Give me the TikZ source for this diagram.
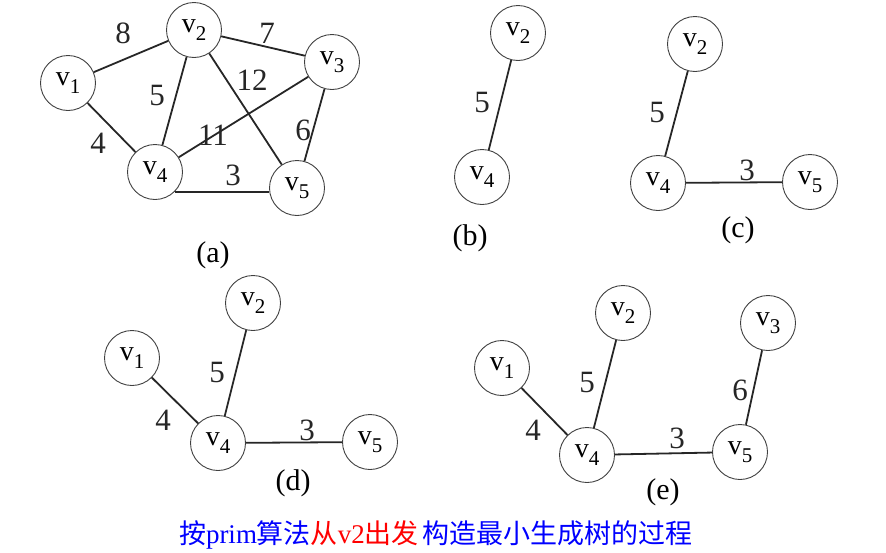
\documentclass[tikz,border=0pt]{standalone}
\usepackage{fontspec}
\setmainfont{Liberation Serif}
\newfontfamily\cjk{Noto Sans CJK SC}
\newcommand{\vx}[1]{v\raisebox{-8pt}{\fontsize{21}{21}\selectfont #1}}

\begin{document}
\begin{tikzpicture}[x=1pt, y=-1pt,
    vertex/.style = {circle, draw=black!75, line width=0.9pt, minimum size=55pt,
      inner sep=0pt, font=\fontsize{28}{28}\selectfont},
    weight/.style = {font=\fontsize{31}{31}\selectfont, text=black!85},
    panel/.style = {font=\fontsize{30}{30}\selectfont}]
  \useasboundingbox (0,0) rectangle (886,552);

  \node[vertex] (a1) at (68,83)   {\vx{1}};
  \node[vertex] (a2) at (194,30)  {\vx{2}};
  \node[vertex] (a3) at (332,62)  {\vx{3}};
  \node[vertex] (a4) at (155,172) {\vx{4}};
  \node[vertex] (a5) at (297,188) {\vx{5}};
  \coordinate (a45) at (a4.-45 -| a5.west);
  \path[draw, line width=1.8pt, black!85]
    (a1) edge (a2)
         edge (a4)
    (a2) edge (a3)
         edge (a4)
         edge (a5)
    (a3) edge (a4)
         edge (a5)
    (a4.-45) edge (a45);
  \node[weight] (w12) at (123,33)  {8};
  \node[weight] (w23) at (267,33)  {7};
  \node[weight] (w25) at (252,80)  {12};
  \node[weight] (w24) at (157,95)  {5};
  \node[weight] (w34) at (213,135) {11};
  \node[weight] (w35) at (303,130) {6};
  \node[weight] (w14) at (98,143)  {4};
  \node[weight] (w45) at (233,175) {3};
  \node[panel] (pa) at (213,255) {(a)};

  \node[vertex] (b2) at (518,33)  {\vx{2}};
  \node[vertex] (b4) at (482,177) {\vx{4}};
  \path[draw, line width=1.8pt, black!85]
    (b2) edge (b4);
  \node[weight] (v24) at (482,102) {5};
  \node[panel] (pb) at (470,238) {(b)};

  \node[vertex] (c2) at (695,44)  {\vx{2}};
  \node[vertex] (c4) at (658,183) {\vx{4}};
  \node[vertex] (c5) at (810,182) {\vx{5}};
  \path[draw, line width=1.8pt, black!85]
    (c2) edge (c4)
    (c4) edge (c5);
  \node[weight] (x24) at (657,112) {5};
  \node[weight] (x45) at (747,170) {3};
  \node[panel] (pc) at (738,230) {(c)};

  \node[vertex] (d1) at (132,358) {\vx{1}};
  \node[vertex] (d2) at (253,303) {\vx{2}};
  \node[vertex] (d4) at (218,443) {\vx{4}};
  \node[vertex] (d5) at (370,442) {\vx{5}};
  \path[draw, line width=1.8pt, black!85]
    (d1) edge (d4)
    (d2) edge (d4)
    (d4) edge (d5);
  \node[weight] (y24) at (217,372) {5};
  \node[weight] (y14) at (163,420) {4};
  \node[weight] (y45) at (307,430) {3};
  \node[panel] (pd) at (293,483) {(d)};

  \node[vertex] (e1) at (502,368) {\vx{1}};
  \node[vertex] (e2) at (623,313) {\vx{2}};
  \node[vertex] (e3) at (768,323) {\vx{3}};
  \node[vertex] (e4) at (587,455) {\vx{4}};
  \node[vertex] (e5) at (740,452) {\vx{5}};
  \path[draw, line width=1.8pt, black!85]
    (e1) edge (e4)
    (e2) edge (e4)
    (e4) edge (e5)
    (e3) edge (e5);
  \node[weight] (z24) at (587,382) {5};
  \node[weight] (z14) at (533,430) {4};
  \node[weight] (z45) at (677,438) {3};
  \node[weight] (z35) at (740,390) {6};
  \node[panel] (pe) at (663,492) {(e)};

  \node[font=\fontsize{27}{27}\selectfont, inner sep=0pt] (cap) at (436,535)
    {\textcolor{blue}{{\cjk 按}prim{\cjk 算法}}\textcolor{red}{{\cjk 从}v2{\cjk 出发}}\hspace{4pt}\textcolor{blue}{\cjk 构造最小生成树的过程}};
\end{tikzpicture}
\end{document}
